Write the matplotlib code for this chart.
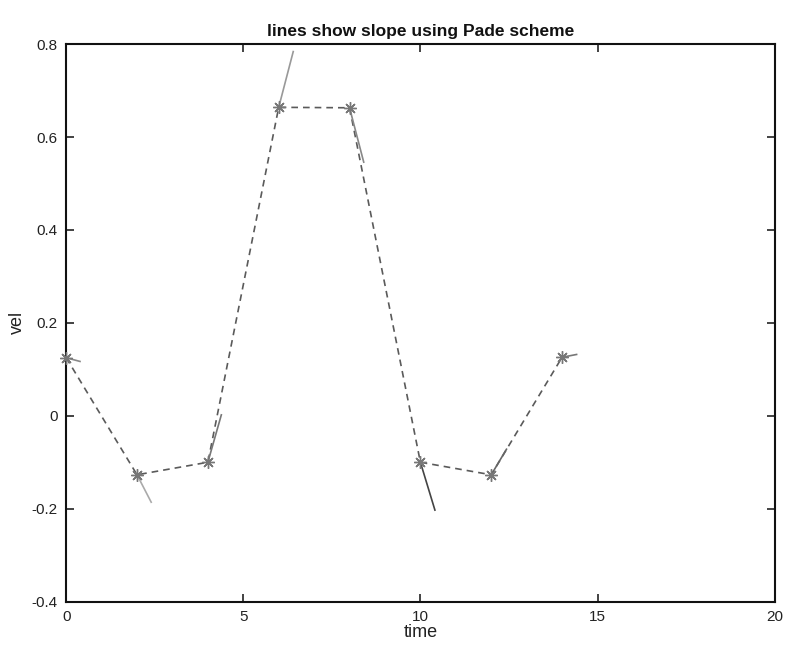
import matplotlib
matplotlib.use("Agg")
import matplotlib.pyplot as plt

# sample times and velocities (stars, dashed line)
t = [0, 2, 4, 6, 8, 10, 12, 14]
v = [0.125, -0.127, -0.100, 0.664, 0.663, -0.100, -0.127, 0.126]
# end points of the slope segments
t1 = [0.39, 2.40, 4.38, 6.41, 8.40, 10.41, 12.43, 14.41]
v1 = [0.117, -0.186, 0.002, 0.784, 0.546, -0.203, -0.072, 0.132]
# slope line greys (as scanned)
seg_colors = ["#888888", "#aaaaaa", "#777777", "#999999", "#888888", "#444444", "#666666", "#777777"]

xticks = [0, 5, 10, 15, 20]
yticks = [-0.4, -0.2, 0, 0.2, 0.4, 0.6, 0.8]
ytick_labels = ["-0.4", "-0.2", "0", "0.2", "0.4", "0.6", "0.8"]

plt.rcParams["font.family"] = ["Liberation Sans", "DejaVu Sans"]

fig = plt.figure(figsize=(7.88, 6.49), dpi=100)
ax = fig.add_axes([0.084, 0.073, 0.899, 0.859])

ax.plot(t, v, linestyle=(0, (4, 3)), color="#5a5a5a", linewidth=1.2, zorder=2)
for i in range(len(t)):
    ax.plot([t[i], t1[i]], [v[i], v1[i]], color=seg_colors[i], linewidth=1.2, zorder=3)
ax.plot(t, v, linestyle="none", marker=(8, 2, 0), markersize=9, color="#777777",
        markeredgecolor="#777777", markeredgewidth=1.0, zorder=4, clip_on=False)

ax.set_xlim(0, 20)
ax.set_ylim(-0.4, 0.8)
ax.set_xticks(xticks)
ax.set_yticks(yticks)
ax.set_yticklabels(ytick_labels)
ax.tick_params(direction="in", length=6, width=1.2, top=True, right=True,
               labelsize=11, colors="#222222", pad=6)
for s in ax.spines.values():
    s.set_linewidth(1.5)
    s.set_color("#111111")

ax.set_xlabel("time", fontsize=13, color="#222222", labelpad=0)
ax.set_ylabel("vel", fontsize=13, color="#222222", labelpad=4)
ax.set_title("lines show slope using Pade scheme", fontsize=12.5, fontweight="bold",
             color="#111111", pad=6)

fig.savefig("out.png", dpi=100)
